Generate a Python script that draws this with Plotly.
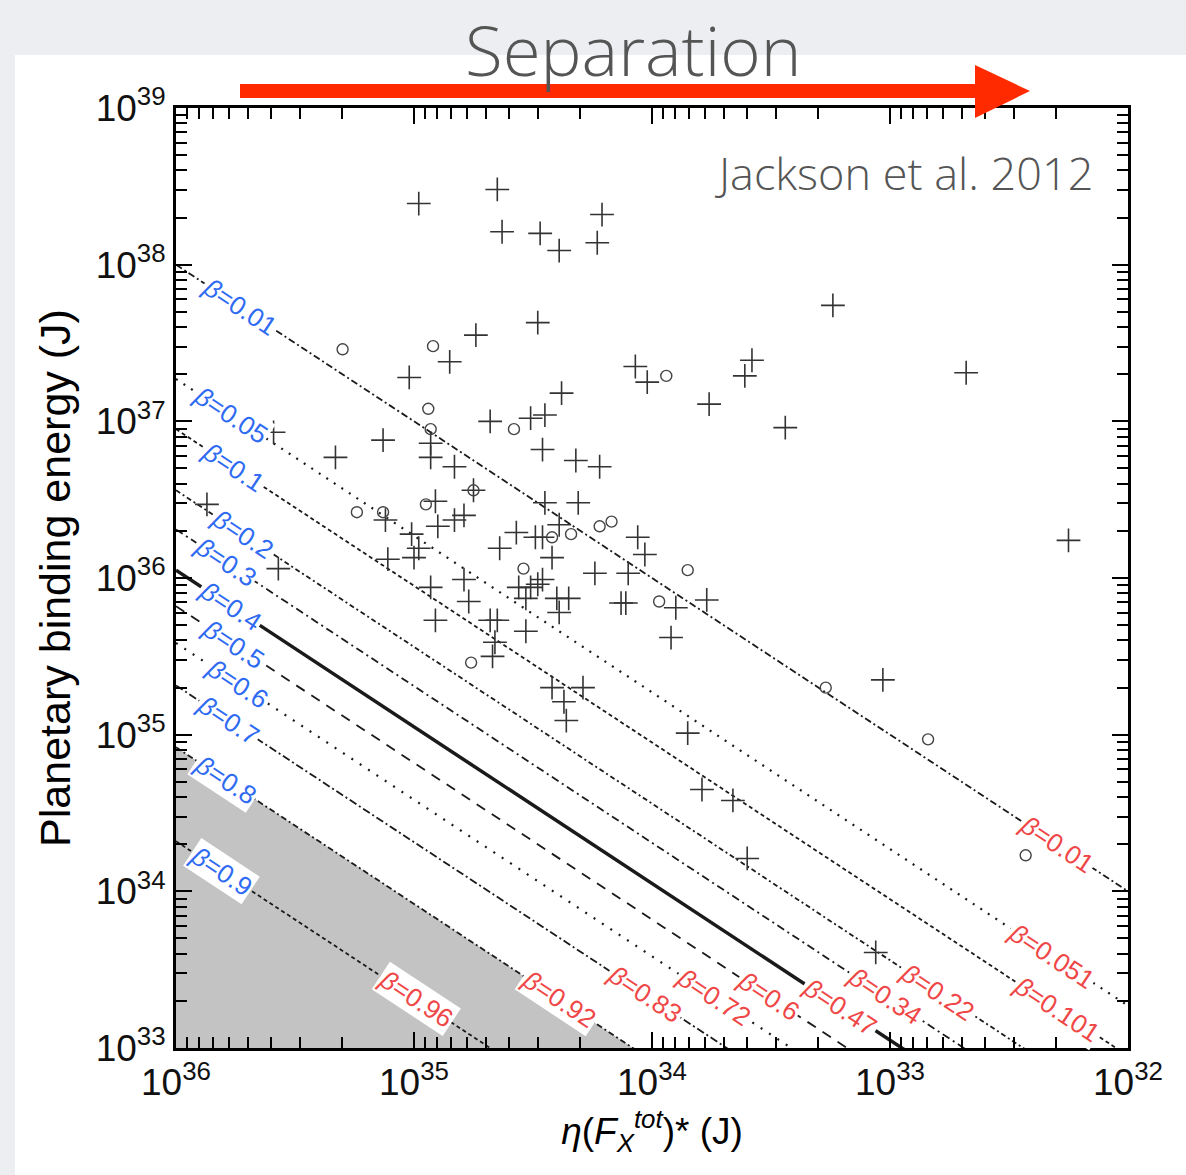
import plotly.graph_objects as go

# ---------------- data (log10 values) ----------------
# planets shown with "+" markers: log10 of eta*(F_x^tot)* [J] and binding energy [J]
plus_logF = [34.98, 34.65, 34.63, 34.47, 34.39, 34.21, 34.23, 34.48, 34.74, 34.85,
             35.02, 34.93, 34.93, 34.83, 35.13, 34.68, 34.51, 34.45, 34.38, 34.46,
             34.32, 34.22, 34.07, 34.02, 33.24, 33.58, 33.61, 33.76, 33.44, 32.68,
             32.25, 35.59, 35.33, 35.87, 35.57, 35.12, 35.11, 35.01, 34.98, 35.00,
             34.93, 34.91, 34.79, 34.77, 34.68, 34.65, 34.66, 34.67, 34.75, 34.91,
             34.90, 34.83, 34.79, 34.45, 34.39, 34.31, 34.57, 34.49, 34.46, 34.64,
             34.42, 34.06, 34.03, 34.46, 34.56, 34.51, 34.48, 34.24, 34.10, 34.53,
             34.40, 34.35, 34.13, 34.11, 33.90, 33.77, 34.39, 34.53, 33.92, 34.42,
             34.29, 34.37, 34.36, 33.85, 33.03, 33.79, 33.66, 33.60, 33.06]
plus_logE = [38.39, 38.48, 38.21, 38.20, 38.09, 38.32, 38.14, 37.63, 37.55, 37.38,
             37.28, 36.86, 36.77, 36.71, 36.88, 37.00, 37.02, 37.04, 37.18, 36.82,
             36.75, 36.71, 37.35, 37.25, 37.74, 37.39, 37.29, 37.11, 36.96, 37.31,
             36.24, 36.93, 36.77, 36.47, 36.06, 36.37, 36.12, 36.28, 36.19, 36.13,
             35.94, 35.73, 35.99, 35.85, 35.73, 35.73, 35.59, 35.50, 36.56, 36.49,
             36.33, 36.37, 36.40, 36.48, 36.34, 36.48, 36.29, 36.26, 36.26, 36.19,
             36.13, 36.26, 36.15, 35.99, 35.94, 35.94, 35.96, 36.03, 36.03, 35.87,
             35.87, 35.87, 35.84, 35.84, 35.81, 35.86, 35.78, 35.66, 35.62, 35.30,
             35.30, 35.21, 35.09, 35.01, 35.35, 34.65, 34.58, 34.21, 33.61]

# planets shown with open circles
circ_logF = [35.30, 34.92, 34.94, 34.93, 34.58, 33.94, 35.24, 35.13, 34.95, 34.75,
             34.42, 34.34, 34.22, 34.17, 34.54, 33.85, 33.97, 34.76, 33.27, 32.84,
             32.43]
circ_logE = [37.46, 37.48, 37.08, 36.95, 36.95, 37.29, 36.42, 36.42, 36.47, 36.56,
             36.26, 36.28, 36.33, 36.36, 36.06, 36.05, 35.85, 35.46, 35.30, 34.97,
             34.23]

# constant-beta lines: log10(binding energy / eta*F)
line_offset = [2.0, 1.27, 0.95, 0.56, 0.31, 0.05, -0.18, -0.415, -0.686, -1.08, -1.68]
blue_beta = ["0.01", "0.05", "0.1", "0.2", "0.3", "0.4", "0.5", "0.6", "0.7", "0.8", "0.9"]
red_beta = ["0.01", "0.051", "0.101", "0.22", "0.34", "0.47", "0.6", "0.72", "0.83", "0.92", "0.96"]

x_ticks = [1e36, 1e35, 1e34, 1e33, 1e32]
x_ticktext = ["10<sup>36</sup>", "10<sup>35</sup>", "10<sup>34</sup>", "10<sup>33</sup>", "10<sup>32</sup>"]
y_ticks = [1e33, 1e34, 1e35, 1e36, 1e37, 1e38, 1e39]
y_ticktext = ["10<sup>33</sup>", "10<sup>34</sup>", "10<sup>35</sup>", "10<sup>36</sup>",
              "10<sup>37</sup>", "10<sup>38</sup>", "10<sup>39</sup>"]

# ---------------- styling / placement ----------------
line_dash = ["7px,3px,2px,3px", "2px,7px", "4px,3px", "5px,3px,2px,3px", "8px,4px,2px,4px",
             "solid", "10px,8px", "2px,8px", "8px,3px,2px,3px", "6px,3px,2px,3px", "4px,3px"]
line_width = [1.8, 2.2, 1.8, 1.8, 1.8, 3.5, 1.8, 2.2, 1.8, 1.8, 1.8]
blue_label_logF = [35.73, 35.77, 35.76, 35.72, 35.79, 35.77, 35.76, 35.74, 35.78, 35.79, 35.81]
red_label_logF = [32.30, 32.32, 32.30, 32.80, 33.02, 33.21, 33.51, 33.74, 34.03, 34.39, 34.99]
GRAY_IDX = 9

W, H = 1186, 1175
L, R, T, B = 176, 1128, 108, 1048


def px(xp):
    return (xp - L) / (R - L)


def py(yp):
    return (B - yp) / (B - T)


fig = go.Figure()

# shaded region below the beta=0.8 line
c = line_offset[GRAY_IDX]
fig.add_trace(go.Scatter(
    x=[1e36, 10 ** (33 - c), 1e36, 1e36],
    y=[10 ** (36 + c), 1e33, 1e33, 10 ** (36 + c)],
    mode="lines", fill="toself", fillcolor="#c3c3c3",
    line=dict(width=0), hoverinfo="skip", showlegend=False))

for i, off in enumerate(line_offset):
    fig.add_trace(go.Scatter(
        x=[1e36, 1e32], y=[1e36 * 10 ** off, 1e32 * 10 ** off],
        mode="lines", line=dict(color="#1a1a1a", width=line_width[i], dash=line_dash[i]),
        hoverinfo="skip", showlegend=False))

fig.add_trace(go.Scatter(
    x=[10.0 ** v for v in plus_logF], y=[10.0 ** v for v in plus_logE], mode="markers",
    marker=dict(symbol="cross-thin-open", size=17, color="#333333",
                line=dict(color="#333333", width=1.6)),
    showlegend=False))
fig.add_trace(go.Scatter(
    x=[10.0 ** v for v in circ_logF], y=[10.0 ** v for v in circ_logE], mode="markers",
    marker=dict(symbol="circle-open", size=11, color="#444444", line=dict(color="#444444", width=1.4)),
    showlegend=False))

# invisible traces that carry the overlay axes (long decade ticks, short sub-decade ticks)
fig.add_trace(go.Scatter(x=[1e34], y=[1e36], xaxis="x2", yaxis="y2", mode="markers",
                         marker=dict(opacity=0), hoverinfo="skip", showlegend=False))
fig.add_trace(go.Scatter(x=[1e34], y=[1e36], xaxis="x3", yaxis="y3", mode="markers",
                         marker=dict(opacity=0), hoverinfo="skip", showlegend=False))

angle = 33.4
ann = []
for i, off in enumerate(line_offset):
    xf = blue_label_logF[i]
    ann.append(dict(x=xf, y=xf + off, xref="x", yref="y", text="<i>β</i>=" + blue_beta[i],
                    showarrow=False, textangle=angle, bgcolor="white", borderpad=1,
                    font=dict(family="Liberation Sans, Arial", size=26, color="#2f6bf2")))
    xr = red_label_logF[i]
    ann.append(dict(x=xr, y=xr + off, xref="x", yref="y", text="<i>β</i>=" + red_beta[i],
                    showarrow=False, textangle=angle, bgcolor="white", borderpad=1,
                    font=dict(family="Liberation Sans, Arial", size=26, color="#ef4747")))

ann.append(dict(x=px(633), y=py(49), xref="paper", yref="paper", text="Separation",
                showarrow=False, xanchor="center", yanchor="middle",
                font=dict(family="Open Sans, Lato", size=69, color="#555555", weight=300)))
ann.append(dict(x=px(903), y=py(172), xref="paper", yref="paper", text="Jackson et al. 2012",
                showarrow=False, xanchor="center", yanchor="middle",
                font=dict(family="Open Sans, Lato", size=45, color="#555555", weight=300)))

shapes = [
    dict(type="rect", xref="paper", yref="paper", x0=px(15), x1=px(1186), y0=py(1175), y1=py(55),
         fillcolor="white", line=dict(width=0), layer="below"),
    dict(type="rect", xref="paper", yref="paper", x0=px(240), x1=px(980), y0=py(98), y1=py(84),
         fillcolor="#ff2a00", line=dict(width=0), layer="above"),
    dict(type="path", xref="paper", yref="paper",
         path=f"M {px(975)},{py(65)} L {px(1030)},{py(91)} L {px(975)},{py(118)} Z",
         fillcolor="#ff2a00", line=dict(width=0), layer="above"),
]

# every tick (decades + sub-decades) on the main axes; labels only at decades
all_x = sorted([float(k) * 10.0 ** n for n in range(32, 36) for k in range(1, 10)] + [1e36], reverse=True)
all_y = sorted([float(k) * 10.0 ** n for n in range(33, 39) for k in range(1, 10)] + [1e39])
all_x_text = [x_ticktext[x_ticks.index(v)] if v in x_ticks else " " for v in all_x]
all_y_text = [y_ticktext[y_ticks.index(v)] if v in y_ticks else " " for v in all_y]
minor_x = [v for v in all_x if v not in x_ticks]
minor_y = [v for v in all_y if v not in y_ticks]

tickfont = dict(family="Liberation Sans Narrow, Arial Narrow, Liberation Sans, Arial", size=37, color="#111111")

overlay_common = dict(type="log", tickmode="array", ticks="inside", tickcolor="black",
                      showticklabels=False, mirror="allticks", showline=True, automargin=False,
                      linewidth=3, linecolor="black", showgrid=False, zeroline=False)

fig.update_layout(
    width=W, height=H, autosize=False,
    margin=dict(l=L, r=W - R, t=T, b=H - B, pad=0),
    paper_bgcolor="#eceef1", plot_bgcolor="white",
    showlegend=False, annotations=ann, shapes=shapes,
    xaxis=dict(type="log", range=[36, 32], tickmode="array", tickvals=all_x, ticktext=all_x_text,
               tickangle=0, automargin=False,
               ticks="inside", ticklen=11, tickwidth=2, tickcolor="black",
               mirror="allticks", showline=True, linewidth=3, linecolor="black",
               showgrid=False, zeroline=False, tickfont=tickfont,
               title=dict(text="<i>η</i>(<i>F</i><sub><i>X</i></sub><sup><i>tot</i></sup>)* (J)",
                          font=dict(family="Liberation Sans, Arial", size=37, color="black"), standoff=16)),
    yaxis=dict(type="log", range=[33, 39], tickmode="array", tickvals=all_y, ticktext=all_y_text,
               tickangle=0, automargin=False,
               ticks="inside", ticklen=11, tickwidth=2, tickcolor="black",
               mirror="allticks", showline=True, linewidth=3, linecolor="black",
               showgrid=False, zeroline=False, tickfont=tickfont,
               title=dict(text="Planetary binding energy (J)",
                          font=dict(family="Liberation Sans, Arial", size=43, color="black"), standoff=12)),
    xaxis2=dict(range=[36, 32], overlaying="x", anchor="y2", side="bottom",
                tickvals=x_ticks, ticklen=16, tickwidth=2.4, **overlay_common),
    yaxis2=dict(range=[33, 39], overlaying="y", anchor="x2", side="left",
                tickvals=y_ticks, ticklen=16, tickwidth=2.4, **overlay_common),
    xaxis3=dict(range=[36, 32], overlaying="x", anchor="y3", side="bottom",
                tickvals=minor_x, ticklen=11, tickwidth=2, **overlay_common),
    yaxis3=dict(range=[33, 39], overlaying="y", anchor="x3", side="left",
                tickvals=minor_y, ticklen=11, tickwidth=2, **overlay_common),
)

fig.write_html("out.html")
